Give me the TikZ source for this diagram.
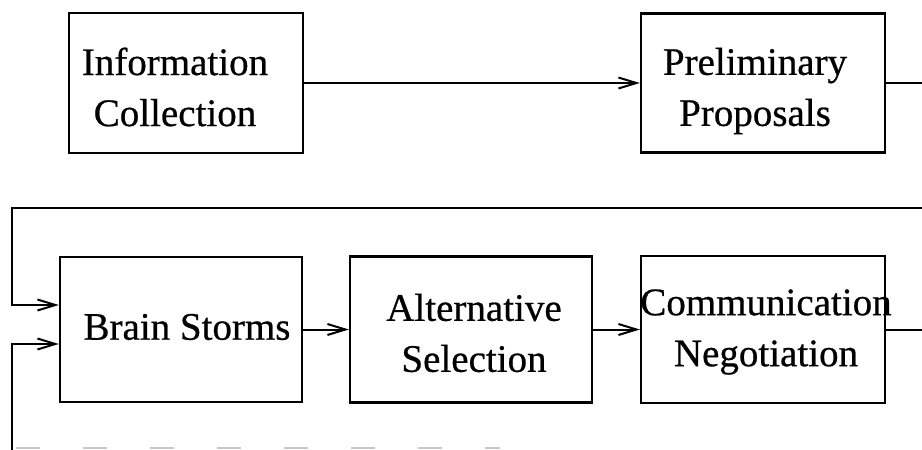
\documentclass[tikz,border=0pt]{standalone}
\usepackage{fontspec}
\setmainfont{Liberation Serif}
\newfontfamily\scanserif{Liberation Serif}[FakeBold=0.6]
\usetikzlibrary{arrows.meta}
\begin{document}
\begin{tikzpicture}[x=1pt,y=-1pt,
  boxnode/.style={draw,line width=2.3pt,inner sep=0pt},
  lbl/.style={font=\scanserif\fontsize{39}{51}\selectfont,align=center,inner sep=0pt},
  conn/.style={line width=2pt},
  arr/.style={line width=2pt,-{Straight Barb[length=18pt,width=11pt,line width=2pt]}},
  faint/.style={draw=black!22,line width=1.5pt,dash pattern=on 24pt off 43pt}]
\useasboundingbox (0,0) rectangle (922,450);
% boxes
\node[boxnode,minimum width=234pt,minimum height=140pt] (ic) at (186,83) {};
\node[boxnode,minimum width=244pt,minimum height=139pt] (pp) at (763,83) {};
\node[boxnode,minimum width=242pt,minimum height=145pt] (bs) at (181,329.5) {};
\node[boxnode,minimum width=242pt,minimum height=146pt] (as) at (471,329.5) {};
\node[boxnode,minimum width=244pt,minimum height=147pt] (cn) at (763,329.5) {};
% texts
\node[lbl] (ict) at (175,87) {Information\\Collection};
\node[lbl] (ppt) at (755,91) {Preliminary\\Proposals};
\node[lbl] (bst) at (187,327) {Brain Storms};
\node[lbl] (ast) at (474,333) {Alternative\\Selection};
\node[lbl] (cnt) at (766,332) {Communication\\Negotiation};
% edge coordinates
\coordinate (r1) at (922,83);
\coordinate (r2) at (922,208);
\coordinate (l2) at (12,208);
\coordinate (r3) at (922,329.5);
\coordinate (bot) at (12,450);
\coordinate (in1) at (12,305);
\coordinate (in2) at (12,344);
% connectors
\draw[arr] (ic.east) -- (pp.west);
\draw[conn] (pp.east) -- (r1);
\draw[arr] (r2) -- (l2) -- (in1) -- (bs.west |- in1);
\draw[arr] (bot) -- (in2) -- (bs.west |- in2);
\draw[arr] (bs.east) -- (as.west);
\draw[arr] (as.east) -- (cn.west);
\draw[conn] (cn.east) -- (r3);
\coordinate (fd1) at (16,448);
\coordinate (fd2) at (500,448);
\draw[faint] (fd1) -- (fd2);
\end{tikzpicture}
\end{document}
